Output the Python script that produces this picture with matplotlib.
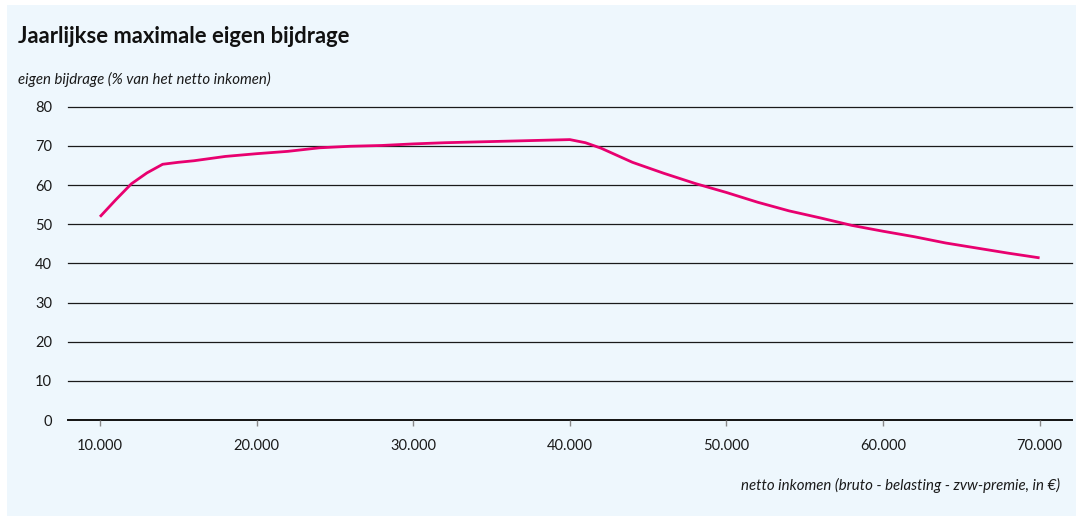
import matplotlib
matplotlib.use("Agg")
import matplotlib.pyplot as plt
from matplotlib.patches import Rectangle

# ---- data ----
income = [10000, 11000, 12000, 13000, 14000, 15000, 16000, 18000, 20000, 22000,
          24000, 26000, 28000, 30000, 32000, 34000, 36000, 38000, 40000, 41000,
          42000, 44000, 46000, 48000, 50000, 52000, 54000, 56000, 58000, 60000,
          62000, 64000, 66000, 68000, 70000]
bijdrage = [51.9, 56.2, 60.3, 63.1, 65.3, 65.8, 66.2, 67.3, 68.0, 68.6,
            69.5, 69.9, 70.1, 70.5, 70.8, 71.0, 71.2, 71.4, 71.6, 70.8,
            69.4, 65.8, 63.0, 60.4, 58.1, 55.6, 53.4, 51.6, 49.7, 48.2,
            46.8, 45.2, 43.9, 42.6, 41.4]
x_ticks = [10000, 20000, 30000, 40000, 50000, 60000, 70000]
x_ticklabels = ["10.000", "20.000", "30.000", "40.000", "50.000", "60.000", "70.000"]
y_ticks = [0, 10, 20, 30, 40, 50, 60, 70, 80]

title = "Jaarlijkse maximale eigen bijdrage"
ylabel = "eigen bijdrage (% van het netto inkomen)"
xlabel = "netto inkomen (bruto - belasting - zvw-premie, in €)"

# ---- style ----
W, H = 1081, 518
bg = "#EEF7FD"
line_color = "#E8006F"
plt.rcParams['font.family'] = ['Lato', 'DejaVu Sans']

fig = plt.figure(figsize=(W / 100, H / 100), dpi=100)
fig.patch.set_facecolor("white")
fig.patches.append(Rectangle((7 / W, 2 / H), (1076 - 7) / W, (513 - 2) / H,
                             transform=fig.transFigure, facecolor=bg,
                             edgecolor="none", zorder=-10))

ax_left, ax_right = 68, 1072
ax_top, ax_bottom = 106.7, 420
ax = fig.add_axes([ax_left / W, 1 - ax_bottom / H,
                   (ax_right - ax_left) / W, (ax_bottom - ax_top) / H])
ax.set_zorder(5)
ax.set_facecolor("none")

x_per_px = 1000 / 15.66
ax.set_xlim(10000 - (100 - ax_left) * x_per_px, 10000 + (ax_right - 100) * x_per_px)
ax.set_ylim(0, 80)

for v in y_ticks[1:]:
    ax.axhline(v, color="#1a1a1a", lw=0.9, clip_on=False, zorder=1)
ax.axhline(0, color="#111111", lw=1.4, clip_on=False, zorder=1)

ax.plot(income, bijdrage, color=line_color, lw=2.0, zorder=3,
        solid_joinstyle="round", solid_capstyle="butt")

for s in ax.spines.values():
    s.set_visible(False)

ax.set_yticks(y_ticks)
ax.set_yticklabels([str(v) for v in y_ticks])
ax.tick_params(axis="y", length=0, pad=11.5, labelsize=10.5, labelcolor="#1a1a1a")
ax.set_xticks(x_ticks)
ax.set_xticklabels(x_ticklabels)
ax.tick_params(axis="x", length=4, width=1, color="#888888", pad=10,
               labelsize=10.5, labelcolor="#1a1a1a")

fig.text(18 / W, 1 - 43 / H, title, fontsize=15.8, fontweight="bold",
         color="#111111", ha="left", va="baseline")
fig.text(18 / W, 1 - 84 / H, ylabel, fontsize=10.8, style="italic",
         color="#1a1a1a", ha="left", va="baseline")
fig.text(1060 / W, 1 - 490 / H, xlabel, fontsize=10.8, style="italic",
         color="#1a1a1a", ha="right", va="baseline")

fig.savefig("out.png", dpi=100, facecolor=fig.get_facecolor())
